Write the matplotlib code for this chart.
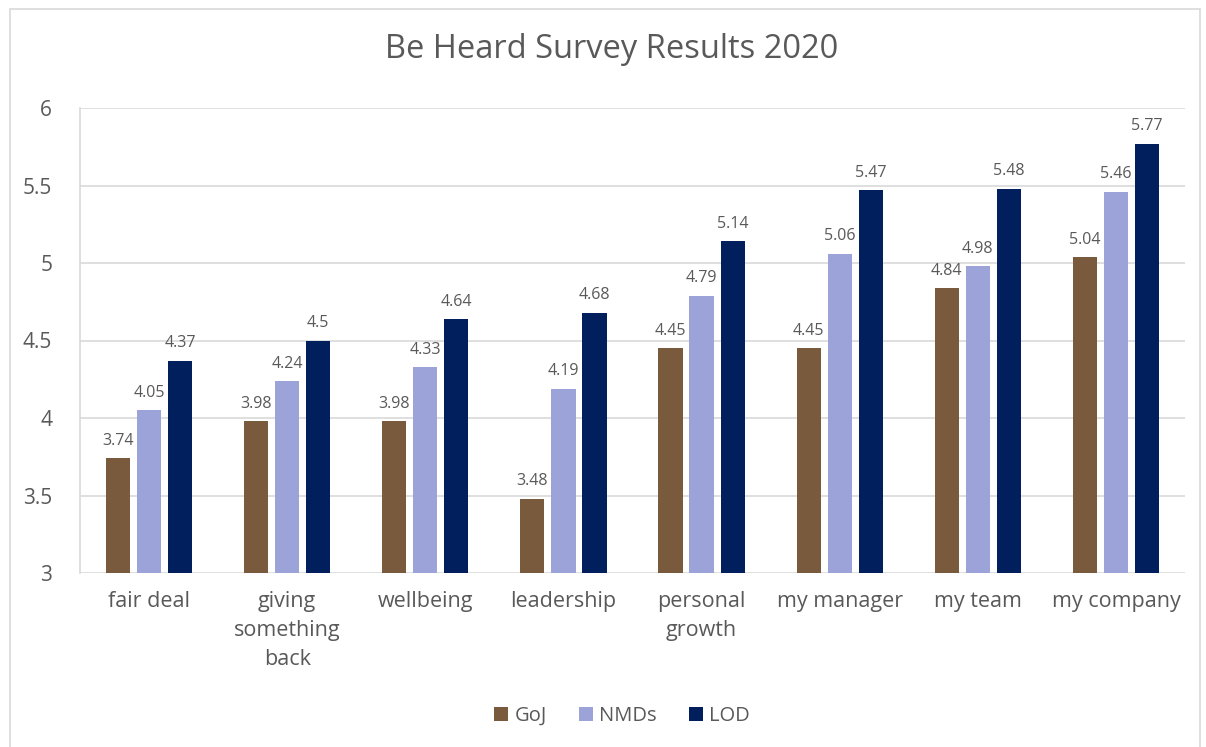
import numpy as np
import matplotlib.pyplot as plt
from matplotlib.patches import Rectangle

categories = ['fair deal', 'giving\nsomething\nback', 'wellbeing', 'leadership',
              'personal\ngrowth', 'my manager', 'my team', 'my company']
goj = [3.74, 3.98, 3.98, 3.48, 4.45, 4.45, 4.84, 5.04]
nmds = [4.05, 4.24, 4.33, 4.19, 4.79, 5.06, 4.98, 5.46]
lod = [4.37, 4.5, 4.64, 4.68, 5.14, 5.47, 5.48, 5.77]
series_names = ['GoJ', 'NMDs', 'LOD']
colors = ['#7a5a3c', '#9ca3d9', '#001f5c']

txt = '#595959'
plt.rcParams['font.family'] = ['Open Sans', 'DejaVu Sans']

fig = plt.figure(figsize=(12.06, 7.47), dpi=100)
ax = fig.add_axes([80 / 1206, 1 - 573 / 747, 1105 / 1206, 465 / 747])

# outer chart border
fig.patches.append(Rectangle((10 / 1206, -0.01), 1190 / 1206, 1 - 9 / 747 + 0.01,
                             transform=fig.transFigure, fill=False,
                             edgecolor='#d9d9d9', linewidth=1.2))

x = np.arange(len(categories))
w = 0.175
step = 0.225
for i, (vals, name, c) in enumerate(zip([goj, nmds, lod], series_names, colors)):
    pos = x + (i - 1) * step
    ax.bar(pos, np.array(vals) - 3, width=w, bottom=3, color=c, label=name, zorder=3)
    for p, v in zip(pos, vals):
        ax.text(p, v + 0.06, f'{v:g}', ha='center', va='bottom', fontsize=11.5, color=txt)

ax.set_xlim(-0.5, len(categories) - 0.5)
ax.set_ylim(3, 6)
ax.set_yticks([3, 3.5, 4, 4.5, 5, 5.5, 6])
ax.set_yticklabels(['3', '3.5', '4', '4.5', '5', '5.5', '6'])
ax.set_xticks(x)
ax.set_xticklabels(categories, fontsize=15.5, color=txt, linespacing=1.5)
ax.tick_params(axis='y', labelsize=15, labelcolor=txt, length=0, pad=20)
ax.tick_params(axis='x', length=0, pad=13)
ax.grid(axis='y', color='#d9d9d9', linewidth=1.2, zorder=0)
for s in ['top', 'right', 'bottom']:
    ax.spines[s].set_visible(False)
ax.spines['left'].set_color('#d9d9d9')
ax.spines['left'].set_linewidth(1.2)

fig.text(612 / 1206, 1 - 50 / 747, 'Be Heard Survey Results 2020', ha='center', va='center',
         fontsize=23.5, color=txt)

fig.legend(loc='center', bbox_to_anchor=(622 / 1206, 1 - 716 / 747), ncol=3, frameon=False,
           fontsize=14.5, labelcolor=txt, handlelength=0.7, handleheight=0.7,
           handletextpad=0.3, columnspacing=1.6)

fig.savefig('out.png', dpi=100)
